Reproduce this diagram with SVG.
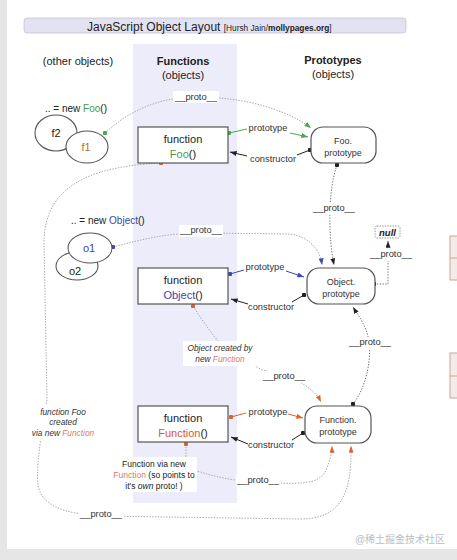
<svg xmlns="http://www.w3.org/2000/svg" width="457" height="560" viewBox="0 0 457 560">
<style>
text{font-family:"Liberation Sans",Arial,sans-serif;fill:#222}
.hdr{font-size:11px;text-anchor:middle}
.b{font-weight:bold}
.box{fill:#fff;stroke:#555;stroke-width:1.2}
.ell{fill:#fff;stroke:#555;stroke-width:1.1}
.bt{font-size:11px;text-anchor:middle}
.pt{font-size:9px;text-anchor:middle;fill:#333}
.sl{font-size:9.3px;text-anchor:middle;fill:#333}
.it{font-size:8.3px;font-style:italic;text-anchor:middle;fill:#333}
.nt{font-size:8.5px;text-anchor:middle;fill:#222}
.dot{fill:none;stroke:#a8a8a8;stroke-width:1;stroke-dasharray:1.4 1.4}
.dotd{fill:none;stroke:#777;stroke-width:1;stroke-dasharray:1.4 1.4}
.sg{fill:none;stroke:#4ba84b;stroke-width:1}
.sb{fill:none;stroke:#3a48b8;stroke-width:1}
.so{fill:none;stroke:#e0622a;stroke-width:1}
.sk{fill:none;stroke:#222;stroke-width:1}
.bg{fill:#fff}
.green{fill:#4a9a4a}
.blue{fill:#3a46a8}
.red{fill:#d9553a}
.pink{fill:#e07a6e}
.brown{fill:#c0703a}
.wm{font-size:10px;text-anchor:middle;fill:#bdbdbd;font-family:"Liberation Sans","Noto Sans CJK SC",sans-serif}
</style>
<defs>
<marker id="ag" viewBox="0 0 8 6" refX="8" refY="3" markerWidth="7" markerHeight="5" markerUnits="userSpaceOnUse" orient="auto"><path d="M0,0 L8,3 L0,6 z" fill="#4ba84b"/></marker>
<marker id="ab" viewBox="0 0 8 6" refX="8" refY="3" markerWidth="7" markerHeight="5" markerUnits="userSpaceOnUse" orient="auto"><path d="M0,0 L8,3 L0,6 z" fill="#3a48b8"/></marker>
<marker id="ao" viewBox="0 0 8 6" refX="8" refY="3" markerWidth="7" markerHeight="5" markerUnits="userSpaceOnUse" orient="auto"><path d="M0,0 L8,3 L0,6 z" fill="#e0622a"/></marker>
<marker id="ak" viewBox="0 0 8 6" refX="8" refY="3" markerWidth="7" markerHeight="5" markerUnits="userSpaceOnUse" orient="auto"><path d="M0,0 L8,3 L0,6 z" fill="#222"/></marker>
<marker id="dg" viewBox="0 0 6 6" refX="3" refY="3" markerWidth="4.5" markerHeight="4.5" markerUnits="userSpaceOnUse"><circle cx="3" cy="3" r="3" fill="#4ba84b"/></marker>
<marker id="db" viewBox="0 0 6 6" refX="3" refY="3" markerWidth="4.5" markerHeight="4.5" markerUnits="userSpaceOnUse"><circle cx="3" cy="3" r="3" fill="#3a48b8"/></marker>
<marker id="do" viewBox="0 0 6 6" refX="3" refY="3" markerWidth="4.5" markerHeight="4.5" markerUnits="userSpaceOnUse"><circle cx="3" cy="3" r="3" fill="#e0622a"/></marker>
<marker id="dk" viewBox="0 0 6 6" refX="3" refY="3" markerWidth="4.5" markerHeight="4.5" markerUnits="userSpaceOnUse"><circle cx="3" cy="3" r="3" fill="#222"/></marker>
</defs>

<!-- page background -->
<rect x="0" y="0" width="457" height="560" fill="#e6e6e6"/>
<rect x="7" y="0" width="450" height="549" fill="#fff"/>
<rect x="133" y="44" width="104" height="459" fill="#ececfa"/>

<!-- partial boxes at right edge -->
<g id="edge-boxes">
<rect x="450" y="236" width="10" height="44" fill="#f4ebe7" stroke="#c8a898" stroke-width="1"/>
<line x1="450" y1="258" x2="457" y2="258" stroke="#c8a898" stroke-width="1"/>
<rect x="450" y="353" width="10" height="45" fill="#f4ebe7" stroke="#c8a898" stroke-width="1"/>
<line x1="450" y1="376" x2="457" y2="376" stroke="#c8a898" stroke-width="1"/>
</g>

<!-- title -->
<g id="title">
<rect x="24" y="18" width="382" height="15" rx="3" fill="#e2e2f2" stroke="#c4c4d4" stroke-width="0.8"/>
<text x="87" y="30.5" font-size="12px">JavaScript Object Layout <tspan font-size="8.3px">[Hursh Jain/</tspan><tspan font-size="8.3px" font-weight="bold">mollypages.org</tspan><tspan font-size="8.3px">]</tspan></text>
</g>

<g id="headers">
<text class="hdr" x="78" y="65">(other objects)</text>
<text class="hdr b" x="183" y="65">Functions</text>
<text class="hdr" x="183" y="79">(objects)</text>
<text class="hdr b" x="333" y="64">Prototypes</text>
<text class="hdr" x="333" y="78">(objects)</text>
</g>

<!-- connectors -->
<g id="connectors">
<path class="dot" d="M105,133 C130,110 160,97 196,97 C250,97 290,112 311,128" marker-start="url(#dg)" marker-end="url(#ag)"/>
<path class="sg" d="M229,133 L247,129 M290,133 L308,137" marker-start="url(#dg)" marker-end="url(#ag)"/>
<path class="sk" d="M310,150 L297,155 M247,156 L230,152" marker-start="url(#dk)" marker-end="url(#ak)"/>
<path class="dotd" d="M337,165 C328,190 328,235 334,265" marker-start="url(#dk)" marker-end="url(#ak)"/>
<path class="dot" d="M161,163 C105,166 46,178 44,240 L47,400 C40,440 36,470 38,485 C42,505 60,513 100,516 L300,519 C340,519 352,495 351,446" marker-start="url(#do)" marker-end="url(#ao)"/>
<path class="dot" d="M113,247 C140,240 165,233 200,233 L290,234 C310,237 320,250 322,265" marker-start="url(#db)" marker-end="url(#ab)"/>
<path class="sb" d="M230,274 L244,270 M286,271 L304,277" marker-start="url(#db)" marker-end="url(#ab)"/>
<path class="sk" d="M304,295 L292,302 M248,304 L231,299" marker-start="url(#dk)" marker-end="url(#ak)"/>
<path class="dotd" d="M374,284 L388,284 L388,241" marker-start="url(#dk)" marker-end="url(#ak)"/>
<path class="dot" d="M193,306 C203,322 213,335 222,346 L262,370 C292,376 313,386 321,402" marker-start="url(#do)" marker-end="url(#ao)"/>
<path class="dotd" d="M353,404 C368,385 374,350 366,330 C361,318 356,312 353,307" marker-start="url(#dk)" marker-end="url(#ak)"/>
<path class="so" d="M231,417 L246,413 M288,414 L303,418" marker-start="url(#do)" marker-end="url(#ao)"/>
<path class="sk" d="M303,433 L292,440 M248,444 L231,437" marker-start="url(#dk)" marker-end="url(#ak)"/>
<path class="dot" d="M186,444 L186,468 C205,473 225,481 258,482 C292,483 320,488 327,468 C330,460 332,452 332,446" marker-start="url(#do)" marker-end="url(#ao)"/>
</g>

<!-- connector labels -->
<g id="labels">
<rect class="bg" x="173" y="91" width="46" height="12"/>
<text class="sl" x="196" y="100">__proto__</text>
<text class="sl" x="268" y="131">prototype</text>
<text class="sl" x="273" y="162">constructor</text>
<rect class="bg" x="312" y="203" width="44" height="12"/>
<text class="sl" x="334" y="211">__proto__</text>
<rect class="bg" x="179" y="225" width="44" height="12"/>
<text class="sl" x="201" y="233">__proto__</text>
<text class="sl" x="265" y="270">prototype</text>
<text class="sl" x="271" y="310">constructor</text>
<rect class="bg" x="369" y="249" width="44" height="12"/>
<text class="sl" x="391" y="257">__proto__</text>
<rect class="bg" x="183" y="341" width="76" height="25"/>
<text class="it" x="220" y="351">Object created by</text>
<text class="it" x="220" y="362">new <tspan class="pink">Function</tspan></text>
<rect class="bg" x="262" y="371" width="44" height="12"/>
<text class="sl" x="284" y="379">__proto__</text>
<rect class="bg" x="348" y="337" width="44" height="12"/>
<text class="sl" x="370" y="345">__proto__</text>
<text class="sl" x="268" y="415">prototype</text>
<text class="sl" x="271" y="448">constructor</text>
<rect class="bg" x="113" y="457" width="84" height="35"/>
<text class="nt" x="154" y="467">Function via new</text>
<text class="nt" x="154" y="478"><tspan class="pink">Function</tspan> (so points to</text>
<text class="nt" x="154" y="489">it's <tspan font-style="italic">own</tspan> proto! )</text>
<rect class="bg" x="236" y="475" width="44" height="12"/>
<text class="sl" x="258" y="483">__proto__</text>
<rect class="bg" x="28" y="405" width="70" height="35"/>
<text class="it" x="63" y="415">function Foo</text>
<text class="it" x="63" y="425">created</text>
<text class="it" x="63" y="436">via new <tspan class="pink">Function</tspan></text>
<rect class="bg" x="78" y="509" width="46" height="12"/>
<text class="sl" x="101" y="517">__proto__</text>
</g>

<!-- other objects -->
<g id="new-foo-label"><text x="45" y="112" font-size="10px">.. = new <tspan class="green">Foo</tspan>()</text></g>
<g id="f2"><ellipse class="ell" cx="56" cy="133" rx="21" ry="18"/><text class="bt" x="56" y="137">f2</text></g>
<g id="f1"><ellipse class="ell" cx="87" cy="147" rx="21" ry="16"/><text class="bt brown" x="86" y="151">f1</text></g>
<g id="new-object-label"><text x="71" y="224" font-size="10px">.. = new <tspan class="blue">Object</tspan>()</text></g>
<g id="o2"><ellipse class="ell" cx="77" cy="266" rx="21" ry="14"/><text class="bt" x="75" y="275">o2</text></g>
<g id="o1"><ellipse class="ell" cx="90" cy="248" rx="22" ry="15"/><text class="bt blue" x="89" y="252">o1</text></g>

<!-- function nodes -->
<g id="fn-foo"><rect class="box" x="138" y="127" width="90" height="36"/><text class="bt" x="183" y="143">function</text><text class="bt" x="183" y="158"><tspan class="green">Foo</tspan>()</text></g>
<g id="fn-object"><rect class="box" x="138" y="268" width="90" height="36"/><text class="bt" x="183" y="284">function</text><text class="bt" x="183" y="299"><tspan class="blue">Object</tspan>()</text></g>
<g id="fn-function"><rect class="box" x="138" y="406" width="90" height="36"/><text class="bt" x="183" y="422">function</text><text class="bt" x="183" y="437"><tspan class="red">Function</tspan>()</text></g>

<!-- prototype nodes -->
<g id="foo-prototype"><rect class="box" x="311" y="127" width="65" height="36" rx="12"/><text class="pt" x="343" y="144">Foo.</text><text class="pt" x="343" y="156">prototype</text></g>
<g id="object-prototype"><rect class="box" x="307" y="268" width="68" height="36" rx="12"/><text class="pt" x="341" y="285">Object.</text><text class="pt" x="341" y="297">prototype</text></g>
<g id="function-prototype"><rect class="box" x="305" y="406" width="66" height="37" rx="12"/><text class="pt" x="338" y="423">Function.</text><text class="pt" x="338" y="435">prototype</text></g>
<g id="null"><rect x="375" y="226" width="25" height="12" rx="2" fill="#fff" stroke="#777" stroke-width="0.8" stroke-dasharray="1.4 1.2"/><text x="387.5" y="235.5" font-size="9.5px" font-weight="bold" font-style="italic" text-anchor="middle">null</text></g>

<g id="watermark"><text class="wm" x="400" y="543">@稀土掘金技术社区</text></g>
</svg>
